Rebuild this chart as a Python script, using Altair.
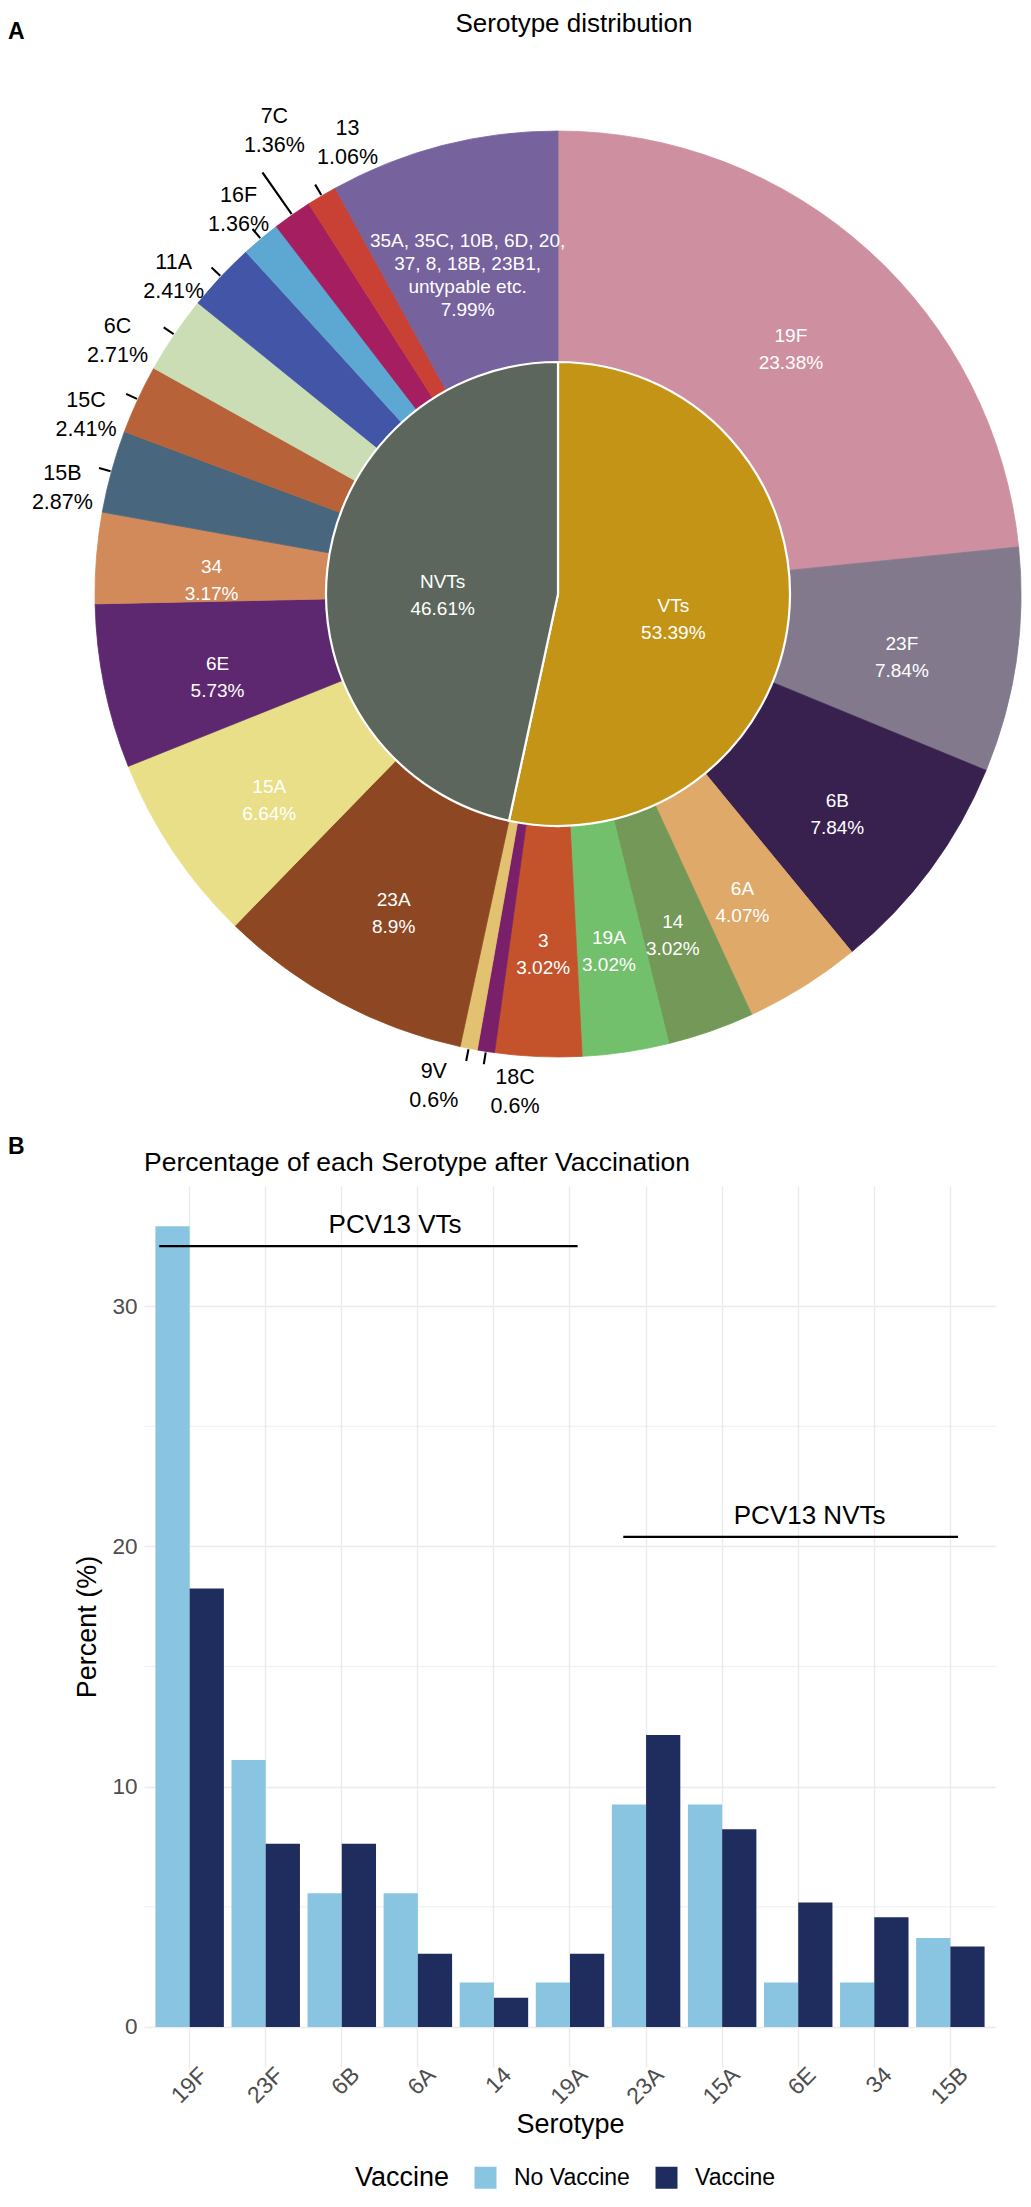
import altair as alt
import pandas as pd

FONT = "Liberation Sans"

# ---------------- Panel A: serotype distribution ----------------
pie_names = ["19F", "23F", "6B", "6A", "14", "19A", "3", "18C", "9V",
             "23A", "15A", "6E", "34", "15B", "15C", "6C", "11A", "16F", "7C", "13", "Others"]
pie_display = ["19F", "23F", "6B", "6A", "14", "19A", "3", "18C", "9V",
               "23A", "15A", "6E", "34", "15B", "15C", "6C", "11A", "16F", "7C", "13",
               "35A, 35C, 10B, 6D, 20,\n37, 8, 18B, 23B1,\nuntypable etc."]
pie_pct = [23.38, 7.84, 7.84, 4.07, 3.02, 3.02, 3.02, 0.6, 0.6,
           8.9, 6.64, 5.73, 3.17, 2.87, 2.41, 2.71, 2.41, 1.36, 1.36, 1.06, 7.99]
pie_colors = ["#CE8FA0", "#827A8C", "#38214F", "#DFA96A", "#739858", "#72C06B", "#C4522B", "#7A1F69", "#E2C170",
              "#8E4723", "#E8DF88", "#5E2870", "#D28A5B", "#48677F", "#B86239", "#CBDDB5", "#4355A6", "#5DA8D3",
              "#A51E60", "#C84134", "#76629D"]
outside_names = ["18C", "9V", "15B", "15C", "6C", "11A", "16F", "7C", "13"]

group_names = ["VTs", "NVTs"]
group_pct = [53.39, 46.61]
group_colors = ["#C49416", "#5C665D"]

# ---------------- Panel B: percentage after vaccination ----------------
categories = ["19F", "23F", "6B", "6A", "14", "19A", "23A", "15A", "6E", "34", "15B"]
no_vaccine = [33.33, 11.11, 5.56, 5.56, 1.85, 1.85, 9.26, 9.26, 1.85, 1.85, 3.70]
vaccine = [18.25, 7.62, 7.62, 3.05, 1.22, 3.05, 12.15, 8.23, 5.18, 4.57, 3.35]
vaccine_groups = ["No Vaccine", "Vaccine"]
vaccine_colors = ["#89C4E1", "#1F2D5E"]

bracket_labels = ["PCV13 VTs", "PCV13 NVTs"]
bracket_start = [0.6, 6.7]
bracket_end = [6.1, 11.1]
bracket_text_x = [3.7, 9.15]
bracket_y = [32.5, 20.4]
minor_grid = [5, 15, 25]
y_ticks = [0, 10, 20, 30]

# ---------------- tables ----------------
pie_df = pd.DataFrame({
    "name": pie_names,
    "pct": pie_pct,
    "idx": list(range(len(pie_names))),
    "label": [f"{d}\n{p:g}%" for d, p in zip(pie_display, pie_pct)],
    "outside": [n in outside_names for n in pie_names],
})
grp_df = pd.DataFrame({
    "name": group_names,
    "pct": group_pct,
    "idx": [0, 1],
    "label": [f"{n}\n{p:g}%" for n, p in zip(group_names, group_pct)],
})
bar_df = pd.DataFrame({
    "Serotype": categories * 2,
    "Vaccine": [vaccine_groups[0]] * len(categories) + [vaccine_groups[1]] * len(categories),
    "Percent": no_vaccine + vaccine,
})
ann_df = pd.DataFrame({"label": bracket_labels, "x1": bracket_start, "x2": bracket_end,
                       "tx": bracket_text_x, "Percent": bracket_y})
minor_df = pd.DataFrame({"Percent": minor_grid})
one = pd.DataFrame({"k": [0]})

# ---------------- pie geometry / styles ----------------
CX, CY = 414, 586
R_IN, R_OUT = 232, 463
theta_scale = alt.Scale(domain=[0, 100])
col_scale = alt.Scale(domain=pie_names + group_names, range=pie_colors + group_colors)
pos = dict(x=alt.value(CX), y=alt.value(CY))


def with_mid(df):
    return (alt.Chart(df)
            .transform_window(cum="sum(pct)", sort=[alt.SortField("idx", order="ascending")], frame=[None, 0])
            .transform_calculate(mid="datum.cum - datum.pct / 2",
                                 t1="datum.cum - datum.pct / 2 - 0.035",
                                 t2="datum.cum - datum.pct / 2 + 0.035"))


ring = alt.Chart(pie_df).mark_arc(innerRadius=R_IN, outerRadius=R_OUT, strokeWidth=0.8).encode(
    theta=alt.Theta("pct:Q", stack=True, scale=theta_scale),
    order=alt.Order("idx:Q"),
    color=alt.Color("name:N", scale=col_scale, legend=None),
    stroke=alt.Stroke("name:N", scale=col_scale, legend=None),
    **pos)

inner = alt.Chart(grp_df).mark_arc(outerRadius=R_IN, stroke="white", strokeWidth=2.2).encode(
    theta=alt.Theta("pct:Q", stack=True, scale=theta_scale),
    order=alt.Order("idx:Q"),
    color=alt.Color("name:N", scale=col_scale, legend=None),
    **pos)

txt = dict(font=FONT, lineBreak="\n", baseline="middle", align="center")

inner_lab = with_mid(grp_df).mark_text(color="white", fontSize=19, lineHeight=27, **txt).encode(
    theta=alt.Theta("mid:Q", stack=False, scale=theta_scale),
    radius=alt.value(R_IN / 2), text="label:N", **pos)

ring_lab = (with_mid(pie_df)
            .transform_filter("!datum.outside && datum.name != 'Others'")
            .mark_text(color="white", fontSize=19, lineHeight=27, **txt)
            .encode(theta=alt.Theta("mid:Q", stack=False, scale=theta_scale),
                    radius=alt.value((R_IN + R_OUT) / 2), text="label:N", **pos))

others_lab = (with_mid(pie_df)
              .transform_filter("datum.name == 'Others'")
              .mark_text(color="white", fontSize=19, lineHeight=23, **txt)
              .encode(theta=alt.Theta("mid:Q", stack=False, scale=theta_scale),
                      radius=alt.value(364), text="label:N", **pos))

# outside label placement (radius px, angular nudge in radians), like a repel layout
place = {"15B": (510, -0.03), "15C": (510, -0.045), "6C": (515, -0.05), "11A": (507, -0.045),
         "16F": (510, 0.02), "7C": (555, 0.075), "13": (510, 0.11), "9V": (494, 0.06), "18C": (486, -0.068)}
out_layers = []
for nm, (rr, dt) in place.items():
    out_layers.append(
        with_mid(pie_df).transform_filter(f"datum.name == '{nm}'")
        .mark_text(color="black", fontSize=21.5, lineHeight=29, thetaOffset=dt, **txt)
        .encode(theta=alt.Theta("mid:Q", stack=False, scale=theta_scale),
                radius=alt.value(rr), text="label:N", **pos))

leaders = (with_mid(pie_df)
           .transform_filter("datum.outside && datum.name != '7C'")
           .mark_arc(innerRadius=R_OUT + 1, outerRadius=R_OUT + 13, color="black")
           .encode(theta=alt.Theta("t1:Q", stack=False, scale=theta_scale), theta2="t2:Q", **pos))
leader_7c = (with_mid(pie_df)
             .transform_filter("datum.name == '7C'")
             .mark_arc(innerRadius=R_OUT + 1, outerRadius=R_OUT + 52, color="black")
             .encode(theta=alt.Theta("t1:Q", stack=False, scale=theta_scale), theta2="t2:Q", **pos))

pie_title = alt.Chart(one).mark_text(font=FONT, fontSize=26, baseline="middle", align="center").encode(
    x=alt.value(430), y=alt.value(16), text=alt.value("Serotype distribution"))
letter_a = alt.Chart(one).mark_text(font=FONT, fontSize=23, fontWeight="bold", align="left",
                                    baseline="middle").encode(
    x=alt.value(-136), y=alt.value(24), text=alt.value("A"))

pie = alt.layer(ring, inner, inner_lab, ring_lab, others_lab, leaders, leader_7c, *out_layers,
                pie_title, letter_a).properties(width=852, height=1168)

# ---------------- bar chart ----------------
y_scale = alt.Scale(domain=[-1.667, 35.0], nice=False, zero=False)
y_axis = alt.Axis(values=y_ticks, title="Percent (%)", labelFontSize=22.5, labelColor="#4D4D4D",
                  ticks=False, domain=False, labelPadding=7, grid=True, gridColor="#EBEBEB", gridWidth=1.4,
                  titleFontSize=27, titleFontWeight="normal", titleColor="black", titlePadding=10)
ann_x = alt.Scale(domain=[0.4, 11.6], nice=False, zero=False)

minor = alt.Chart(minor_df).mark_rule(color="#EBEBEB", strokeWidth=0.8).encode(
    y=alt.Y("Percent:Q", scale=y_scale, axis=y_axis))

bars = alt.Chart(bar_df).mark_bar().encode(
    x=alt.X("Serotype:N", sort=categories,
            scale=alt.Scale(paddingInner=0.1, paddingOuter=0.15),
            axis=alt.Axis(title="Serotype", labelAngle=-45, labelAlign="right", labelBaseline="middle",
                          labelOffset=14, labelPadding=4, labelFontSize=23, labelColor="#4D4D4D",
                          ticks=False, domain=False, grid=True, gridColor="#EBEBEB", gridWidth=1.4,
                          bandPosition=0.5, titleFontSize=27, titleFontWeight="normal",
                          titleColor="black", titlePadding=3)),
    xOffset=alt.XOffset("Vaccine:N", sort=vaccine_groups, scale=alt.Scale(paddingInner=0, paddingOuter=0)),
    y=alt.Y("Percent:Q", scale=y_scale, axis=y_axis, stack=False),
    y2=alt.datum(0),
    color=alt.Color("Vaccine:N", scale=alt.Scale(domain=vaccine_groups, range=vaccine_colors),
                    legend=alt.Legend(orient="none", legendX=211, legendY=980, direction="horizontal",
                                      titleOrient="left", title="Vaccine", titleFontSize=27,
                                      titleFontWeight="normal", titleColor="black", labelFontSize=23,
                                      labelColor="black", symbolType="square", symbolSize=484,
                                      symbolStrokeWidth=0, labelOffset=17, columnPadding=25,
                                      titlePadding=24, titleBaseline="middle")),
)

ann_rule = alt.Chart(ann_df).mark_rule(color="black", strokeWidth=2.2).encode(
    x=alt.X("x1:Q", scale=ann_x, axis=None), x2="x2:Q",
    y=alt.Y("Percent:Q", scale=y_scale, axis=y_axis))
ann_text = alt.Chart(ann_df).mark_text(font=FONT, fontSize=26, dy=-21, baseline="middle").encode(
    x=alt.X("tx:Q", scale=ann_x, axis=None),
    y=alt.Y("Percent:Q", scale=y_scale, axis=y_axis), text="label:N")

letter_b = alt.Chart(one).mark_text(font=FONT, fontSize=23, fontWeight="bold", align="left",
                                    baseline="middle").encode(
    x=alt.value(-136), y=alt.value(-39), text=alt.value("B"))
bar_title = alt.Chart(one).mark_text(font=FONT, fontSize=26.5, align="left", baseline="middle").encode(
    x=alt.value(0), y=alt.value(-23), text=alt.value("Percentage of each Serotype after Vaccination"))

bar_chart = alt.layer(minor, bars, ann_rule, ann_text, letter_b, bar_title).resolve_scale(
    x="independent").properties(width=852, height=881)

chart = (alt.vconcat(pie, bar_chart, spacing=10, bounds="flush")
         .resolve_scale(color="independent", stroke="independent")
         .properties(padding=0)
         .configure(font=FONT)
         .configure_view(stroke=None)
         .configure_axis(labelFont=FONT, titleFont=FONT)
         .configure_legend(labelFont=FONT, titleFont=FONT))

chart.save("out.html", embed_options={"renderer": "svg", "actions": False})
